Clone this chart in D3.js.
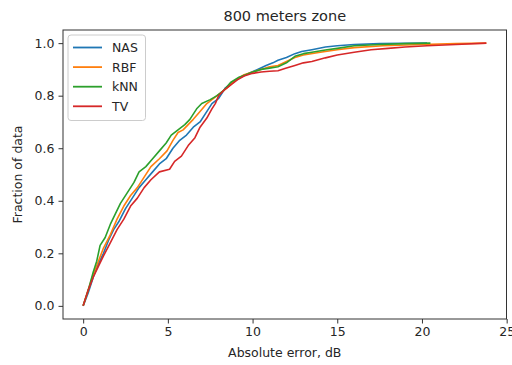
<!DOCTYPE html>
<html><head><meta charset="utf-8">
<script src="https://cdn.jsdelivr.net/npm/d3@7"></script>
<style>body{margin:0;background:#fff}svg{display:block}text{font-family:"DejaVu Sans",sans-serif;fill:#262626}</style>
</head><body>
<svg id="c" width="512" height="365"></svg>
<script>
const title = "800 meters zone";
const xLabel = "Absolute error, dB";
const yLabel = "Fraction of data";
const seriesNames = ["NAS", "RBF", "kNN", "TV"];
const seriesColors = ["#1f77b4", "#ff7f0e", "#2ca02c", "#d62728"];
const xTicks = [0, 5, 10, 15, 20, 25];
const yTicks = [0.0, 0.2, 0.4, 0.6, 0.8, 1.0];

const nas = [[0,0],[0.3,0.05],[0.6,0.11],[0.9,0.16],[1.2,0.20],[1.5,0.25],[1.8,0.29],[2.1,0.32],[2.5,0.37],[2.9,0.41],[3.3,0.45],[3.7,0.48],[4.1,0.51],[4.5,0.54],[4.9,0.56],[5.3,0.60],[5.7,0.63],[6.1,0.65],[6.5,0.68],[6.9,0.70],[7.2,0.73],[7.6,0.77],[8.0,0.79],[8.4,0.83],[8.8,0.85],[9.3,0.87],[9.8,0.885],[10.3,0.90],[10.8,0.915],[11.2,0.925],[11.5,0.935],[12.0,0.945],[12.5,0.96],[12.9,0.968],[13.5,0.975],[14.3,0.985],[15.0,0.99],[16.0,0.995],[17.5,0.998],[20.3,1.0]];
const rbf = [[0,0],[0.3,0.06],[0.6,0.12],[0.9,0.17],[1.2,0.22],[1.6,0.27],[2.0,0.33],[2.4,0.38],[2.8,0.42],[3.2,0.45],[3.6,0.49],[4.0,0.53],[4.5,0.56],[4.95,0.59],[5.3,0.63],[5.6,0.66],[5.9,0.67],[6.2,0.69],[6.5,0.71],[6.9,0.74],[7.3,0.77],[7.7,0.79],[8.1,0.81],[8.5,0.83],[9.0,0.86],[9.5,0.88],[10.0,0.89],[10.5,0.90],[11.0,0.91],[11.5,0.915],[12.0,0.93],[12.5,0.945],[13.0,0.955],[14.0,0.965],[15.0,0.975],[16.0,0.983],[17.7,0.99],[20.0,0.995],[22.0,0.998],[23.8,1.0]];
const knn = [[0,0],[0.3,0.06],[0.6,0.13],[0.8,0.17],[1.0,0.23],[1.3,0.26],[1.6,0.31],[1.9,0.35],[2.2,0.39],[2.6,0.43],[3.0,0.47],[3.3,0.51],[3.7,0.53],[4.1,0.56],[4.5,0.59],[4.9,0.62],[5.2,0.65],[5.6,0.67],[6.0,0.69],[6.3,0.71],[6.7,0.75],[7.0,0.77],[7.5,0.785],[7.9,0.80],[8.3,0.82],[8.7,0.85],[9.2,0.87],[9.6,0.88],[10.0,0.89],[10.5,0.90],[11.0,0.905],[11.5,0.91],[12.0,0.925],[12.5,0.95],[13.0,0.96],[13.5,0.965],[14.3,0.974],[15.0,0.98],[16.0,0.99],[17.5,0.995],[19.0,0.998],[20.5,1.0]];
const tv = [[0,0],[0.3,0.06],[0.6,0.11],[0.9,0.15],[1.2,0.19],[1.6,0.24],[2.0,0.29],[2.4,0.33],[2.8,0.38],[3.2,0.41],[3.6,0.45],[4.0,0.48],[4.5,0.51],[5.1,0.52],[5.4,0.55],[5.8,0.57],[6.2,0.61],[6.6,0.64],[6.9,0.68],[7.3,0.715],[7.6,0.75],[7.8,0.77],[8.0,0.80],[8.3,0.82],[8.7,0.84],[9.1,0.86],[9.5,0.875],[10.0,0.885],[10.5,0.89],[11.0,0.893],[11.5,0.895],[12.0,0.905],[12.5,0.915],[13.0,0.925],[13.5,0.93],[14.3,0.944],[15.0,0.955],[16.0,0.965],[17.0,0.975],[18.0,0.98],[19.0,0.985],[20.3,0.99],[22.0,0.995],[23.8,1.0]];
const seriesData = [nas, rbf, knn, tv];

const svg = d3.select("#c");
const L = 63, R = 506.5, T = 30, B = 319;
const x = d3.scale ? null : null;
const xs = d3.scaleLinear().domain([-1.19, 24.99]).range([L, R]);
const ys = d3.scaleLinear().domain([-0.05, 1.05]).range([B, T]);

const line = d3.line().x(d => xs(d[0])).y(d => ys(d[1]));
const plot = svg.append("g");
seriesData.forEach((s, i) => {
  plot.append("path").datum(s).attr("d", line).attr("fill", "none")
    .attr("stroke", seriesColors[i]).attr("stroke-width", 1.6).attr("stroke-linejoin", "round");
});

const xAxis = svg.append("g").attr("transform", `translate(0,${B})`)
  .call(d3.axisBottom(xs).tickValues(xTicks).tickFormat(d3.format("d")).tickSize(4.5).tickPadding(4));
const yAxis = svg.append("g").attr("transform", `translate(${L},0)`)
  .call(d3.axisLeft(ys).tickValues(yTicks).tickFormat(d3.format(".1f")).tickSize(4.5).tickPadding(4));
[xAxis, yAxis].forEach(a => {
  a.select(".domain").remove();
  a.selectAll("line").attr("stroke", "#333").attr("stroke-width", 1);
  a.selectAll("text").attr("font-size", 12.5).attr("fill", "#262626").attr("font-family", "DejaVu Sans");
});

svg.append("rect").attr("x", L).attr("y", T).attr("width", R - L).attr("height", B - T)
  .attr("fill", "none").attr("stroke", "#333").attr("stroke-width", 1);

svg.append("text").attr("x", (L + R) / 2).attr("y", 21).attr("text-anchor", "middle")
  .attr("font-size", 14.5).text(title);
svg.append("text").attr("x", (L + R) / 2).attr("y", 357).attr("text-anchor", "middle")
  .attr("font-size", 12.5).text(xLabel);
svg.append("text").attr("transform", `translate(22,${(T + B) / 2}) rotate(-90)`).attr("text-anchor", "middle")
  .attr("font-size", 12.5).text(yLabel);

const lg = svg.append("g");
lg.append("rect").attr("x", 68).attr("y", 35).attr("width", 77.5).attr("height", 85.5).attr("rx", 3)
  .attr("fill", "#fff").attr("fill-opacity", 0.8).attr("stroke", "#ccc").attr("stroke-width", 1);
seriesNames.forEach((n, i) => {
  const yy = 47.5 + i * 19.6;
  lg.append("line").attr("x1", 73).attr("x2", 102).attr("y1", yy).attr("y2", yy)
    .attr("stroke", seriesColors[i]).attr("stroke-width", 1.8);
  lg.append("text").attr("x", 112).attr("y", yy + 4.5).attr("font-size", 12.5).text(n);
});
</script>
</body></html>
